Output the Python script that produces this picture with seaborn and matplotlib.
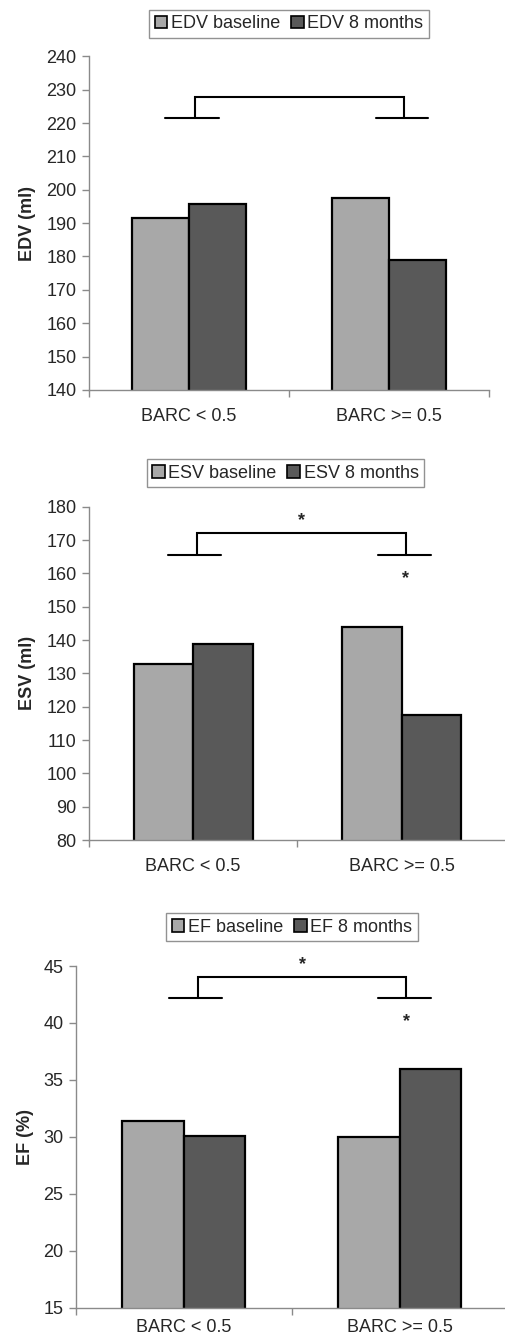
import matplotlib
matplotlib.use("Agg")
import matplotlib.pyplot as plt
import seaborn as sns
import pandas as pd

sns.set_theme(style="white")
plt.rcParams['font.family'] = ['Liberation Sans', 'DejaVu Sans']

groups = ["BARC < 0.5", "BARC >= 0.5"]
edv_baseline = [191.6, 197.6]
edv_8m = [195.7, 179.0]
esv_baseline = [132.8, 143.8]
esv_8m = [138.8, 117.5]
ef_baseline = [31.4, 30.0]
ef_8m = [30.1, 36.0]

panels = [
    dict(name="EDV", ylabel="EDV (ml)", base=edv_baseline, m8=edv_8m,
         ylim=(140, 240), yticks=list(range(140, 241, 10)),
         rect=[0.176, 0.709, 0.792, 0.249],
         leg=(0.5, 1.097), xpad=13,
         bracket=dict(top=227.7, foot=221.6, v=(0.03, 1.075),
                      feet=((-0.12, 0.15), (0.935, 1.195))),
         stars=[]),
    dict(name="ESV", ylabel="ESV (ml)", base=esv_baseline, m8=esv_8m,
         ylim=(80, 180), yticks=list(range(80, 181, 10)),
         rect=[0.176, 0.3731, 0.826, 0.2487],
         leg=(0.471, 1.101), xpad=13,
         bracket=dict(top=172.0, foot=165.6, v=(0.02, 1.02),
                      feet=((-0.12, 0.135), (0.885, 1.14))),
         stars=[(0.52, 176.0), (1.02, 158.6)]),
    dict(name="EF", ylabel="EF (%)", base=ef_baseline, m8=ef_8m,
         ylim=(15, 45), yticks=list(range(15, 46, 5)),
         rect=[0.1505, 0.0241, 0.855, 0.255],
         leg=(0.5, 1.114), xpad=8,
         bracket=dict(top=44.0, foot=42.2, v=(0.064, 1.03),
                      feet=((-0.07, 0.177), (0.897, 1.146))),
         stars=[(0.55, 45.1), (1.033, 40.1)]),
]

light = "#a8a8a8"
dark = "#595959"
axis_grey = "#8a8a8a"
FS = 13

fig = plt.figure(figsize=(5.05, 13.4), dpi=100)

for p in panels:
    ax = fig.add_axes(p["rect"])
    df = pd.DataFrame({
        "group": groups * 2,
        "value": p["base"] + p["m8"],
        "time": [f"{p['name']} baseline"] * 2 + [f"{p['name']} 8 months"] * 2,
    })
    sns.barplot(data=df, x="group", y="value", hue="time",
                palette=[light, dark], edgecolor="black", linewidth=1.6,
                width=0.57, ax=ax, saturation=1)
    ax.set_ylim(*p["ylim"])
    ax.set_xlim(-0.5, 1.5)
    ax.set_yticks(p["yticks"])
    ax.set_xlabel("")
    ax.set_ylabel(p["ylabel"], fontsize=FS, fontweight="bold", labelpad=7)
    for s in ["top", "right"]:
        ax.spines[s].set_visible(False)
    for s in ["left", "bottom"]:
        ax.spines[s].set_color(axis_grey)
        ax.spines[s].set_linewidth(1.0)
    ax.tick_params(axis="y", which="major", length=5, width=1, color=axis_grey,
                   labelsize=FS, pad=4, left=True, direction="out")
    ax.tick_params(axis="x", which="major", length=0, labelsize=FS, pad=p["xpad"])
    ax.set_xticks([-0.5, 0.5, 1.5], minor=True)
    ax.tick_params(axis="x", which="minor", length=5, width=1, color=axis_grey,
                   bottom=True, direction="out")

    leg = ax.legend(loc="center", bbox_to_anchor=p["leg"], ncol=2, fontsize=FS,
                    frameon=True, fancybox=False, handlelength=0.7,
                    handleheight=0.7, handletextpad=0.2, columnspacing=0.6,
                    borderpad=0.3, borderaxespad=0)
    leg.get_frame().set_edgecolor("#777777")
    leg.get_frame().set_linewidth(1.0)
    for h in leg.legend_handles:
        h.set_edgecolor("black")
        h.set_linewidth(1.2)

    b = p["bracket"]
    v0, v1 = b["v"]
    ax.plot([v0, v0, v1, v1], [b["foot"], b["top"], b["top"], b["foot"]],
            color="black", lw=1.5, clip_on=False, solid_joinstyle="miter")
    for (f0, f1) in b["feet"]:
        ax.plot([f0, f1], [b["foot"], b["foot"]], color="black", lw=1.5,
                clip_on=False)
    for (sx, sy) in p["stars"]:
        ax.text(sx, sy, "*", ha="center", va="center", fontsize=13,
                fontweight="bold", clip_on=False)

fig.savefig("out.png", dpi=100)
